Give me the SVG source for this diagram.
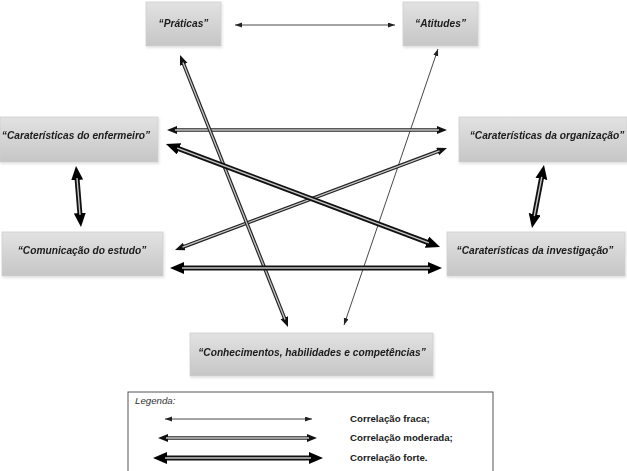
<svg xmlns="http://www.w3.org/2000/svg" xmlns:xlink="http://www.w3.org/1999/xlink" width="627" height="471" viewBox="0 0 627 471">
<style>
.box{fill:url(#g);stroke:#cfcfcf;stroke-width:0.8}
.lbl{font-family:"Liberation Sans",Arial,sans-serif;font-size:10.2px;font-weight:bold;font-style:italic;fill:#1a1a1a;text-anchor:middle}
.thin{fill:none;stroke:#333;stroke-width:0.9;marker-start:url(#mt);marker-end:url(#mt)}
.modo{fill:none;stroke:#222;stroke-width:3.6;marker-start:url(#mm);marker-end:url(#mm)}
.modi{fill:none;stroke:#c8c8c8;stroke-width:1.3}
.stro{fill:none;stroke:#111;stroke-width:5;marker-start:url(#ms);marker-end:url(#ms)}
.stri{fill:none;stroke:#c4c4c4;stroke-width:1.4}
.leg{font-family:"Liberation Sans",Arial,sans-serif;font-size:9.7px;font-weight:bold;fill:#1a1a1a}
</style>
<defs>
<linearGradient id="g" x1="0" y1="0" x2="0" y2="1">
<stop offset="0" stop-color="#e2e2e2"/>
<stop offset="1" stop-color="#c6c6c6"/>
</linearGradient>
<filter id="sh" x="-5%" y="-5%" width="115%" height="130%">
<feDropShadow dx="1" dy="1.5" stdDeviation="1" flood-color="#000" flood-opacity="0.12"/>
</filter>
<marker id="mt" markerUnits="userSpaceOnUse" markerWidth="8" markerHeight="6" refX="7" refY="2.5" orient="auto-start-reverse"><path d="M0,0 L7,2.5 L0,5 z" fill="#222"/></marker>
<marker id="mm" markerUnits="userSpaceOnUse" markerWidth="11" markerHeight="9" refX="2" refY="4" orient="auto-start-reverse"><path d="M0,0 L10,4 L0,8 z" fill="#111"/></marker>
<marker id="ms" markerUnits="userSpaceOnUse" markerWidth="15" markerHeight="13" refX="2" refY="6" orient="auto-start-reverse"><path d="M0,0 L14,6 L0,12 z" fill="#000"/></marker>
<path id="c2" d="M175,130 L439,130"/>
<path id="c3" d="M177.2,148.2 L428.8,242.8"/>
<path id="c4" d="M182.5,247.2 L439.5,150.8"/>
<path id="c5" d="M182,268 L430,268"/>
<path id="c6" d="M182.95,62.43 L285.05,319.57"/>
<path id="c8" d="M77,178 L80,215"/>
<path id="c9" d="M541.75,176.8 L534.25,216.2"/>
<path id="l2" d="M166,438 L309,438"/>
<path id="l3" d="M165,458 L311,458"/>
</defs>
<rect width="627" height="471" fill="#fff"/>
<g id="n-praticas" filter="url(#sh)"><rect class="box" x="146" y="2" width="75" height="44"/><text class="lbl" x="183.5" y="27">“Práticas”</text></g>
<g id="n-atitudes" filter="url(#sh)"><rect class="box" x="403" y="2" width="75" height="44"/><text class="lbl" x="440.5" y="27">“Atitudes”</text></g>
<g id="n-enfermeiro" filter="url(#sh)"><rect class="box" x="0" y="117" width="158" height="45"/><text class="lbl" x="76" y="139">“Caraterísticas do enfermeiro”</text></g>
<g id="n-organizacao" filter="url(#sh)"><rect class="box" x="459" y="117" width="168" height="45"/><text class="lbl" x="547" y="139">“Caraterísticas da organização”</text></g>
<g id="n-comunicacao" filter="url(#sh)"><rect class="box" x="2" y="232" width="161" height="44"/><text class="lbl" x="82" y="254">“Comunicação do estudo”</text></g>
<g id="n-investigacao" filter="url(#sh)"><rect class="box" x="447" y="232" width="178" height="44"/><text class="lbl" x="535" y="254">“Caraterísticas da investigação”</text></g>
<g id="n-conhecimentos" filter="url(#sh)"><rect class="box" x="190" y="333" width="243" height="43"/><text class="lbl" x="312" y="356">“Conhecimentos, habilidades e competências”</text></g>
<g id="connectors">
<path class="thin" d="M235,25 L395,25"/>
<path class="thin" d="M438,49 L344,325"/>
<use xlink:href="#c2" class="modo"/><use xlink:href="#c2" class="modi"/>
<use xlink:href="#c4" class="modo"/><use xlink:href="#c4" class="modi"/>
<use xlink:href="#c6" class="modo"/><use xlink:href="#c6" class="modi"/>
<use xlink:href="#c3" class="stro"/><use xlink:href="#c3" class="stri"/>
<use xlink:href="#c5" class="stro"/><use xlink:href="#c5" class="stri"/>
<use xlink:href="#c8" class="stro"/><use xlink:href="#c8" class="stri"/>
<use xlink:href="#c9" class="stro"/><use xlink:href="#c9" class="stri"/>
</g>
<g id="legend">
<rect x="128" y="392" width="365" height="85" fill="#fff" stroke="#555" stroke-width="1"/>
<text x="135" y="404" font-family="'Liberation Sans',Arial,sans-serif" font-size="9.7" font-style="italic" fill="#333">Legenda:</text>
<path class="thin" d="M165,419 L312,419"/>
<use xlink:href="#l2" class="modo"/><use xlink:href="#l2" class="modi"/>
<use xlink:href="#l3" class="stro"/><use xlink:href="#l3" class="stri"/>
<text class="leg" x="350" y="422">Correlação fraca;</text>
<text class="leg" x="350" y="441">Correlação moderada;</text>
<text class="leg" x="350" y="461">Correlação forte.</text>
</g>
</svg>
